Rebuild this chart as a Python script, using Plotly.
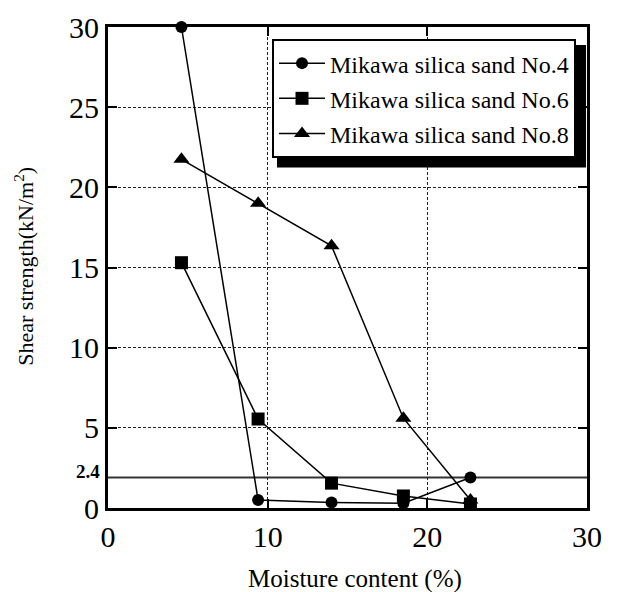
import plotly.graph_objects as go

moisture = [4.6, 9.4, 14.0, 18.5, 22.7]
sand_no4 = [30.0, 0.5, 0.35, 0.3, 1.9]
sand_no6 = [15.3, 5.55, 1.55, 0.75, 0.25]
sand_no8 = [21.75, 19.0, 16.35, 5.6, 0.5]
series_names = ["Mikawa silica sand No.4", "Mikawa silica sand No.6", "Mikawa silica sand No.8"]
x_ticks = [0, 10, 20, 30]
y_ticks = [0, 5, 10, 15, 20, 25, 30]
ref_label = "2.4"
ref_level = 1.9

FONT = "Liberation Serif, Times New Roman, serif"
fig = go.Figure()
symbols = ["circle", "square", "triangle-up"]
sizes = [12, 13, 14]
for i, (name, vals, sym, sz) in enumerate(zip(series_names, [sand_no4, sand_no6, sand_no8], symbols, sizes)):
    fig.add_trace(go.Scatter(
        x=moisture, y=vals, name=name, mode="lines+markers",
        line=dict(color="black", width=1.5),
        marker=dict(symbol=sym, size=sz, color="black"),
        cliponaxis=False, legendgroup="g%d" % i,
    ))

# reference line
fig.add_shape(type="line", xref="paper", x0=0, x1=1, yref="y", y0=ref_level, y1=ref_level,
              line=dict(color="#333333", width=2), layer="below")
fig.add_annotation(text="<b>%s</b>" % ref_label, xref="paper", x=-0.012, xanchor="right",
                   yref="y", y=ref_level, yshift=6, showarrow=False,
                   font=dict(family=FONT, size=19, color="black"))

# legend shadow
fig.add_shape(type="rect", xref="paper", yref="paper",
              x0=0.3528, x1=0.998, y0=0.708, y1=0.9626,
              fillcolor="black", line=dict(width=0), layer="above")

fig.update_layout(
    width=610, height=584,
    margin=dict(l=100, r=31, t=19, b=84, autoexpand=False),
    paper_bgcolor="white", plot_bgcolor="white",
    font=dict(family=FONT, color="black"),
    showlegend=True,
    legend=dict(x=0.3424, y=0.975, xanchor="left", yanchor="top",
                bgcolor="white", bordercolor="black", borderwidth=2,
                font=dict(family=FONT, size=24, color="black"),
                tracegroupgap=1, itemwidth=46),
    xaxis=dict(range=[0, 30], tickvals=x_ticks, ticktext=[str(v) for v in x_ticks],
               showgrid=True, gridcolor="#222222", griddash="3px,2px", gridwidth=1,
               showline=True, linecolor="black", linewidth=3, mirror="ticks",
               ticks="inside", ticklen=9, tickwidth=1.5, tickcolor="black",
               zeroline=False, tickfont=dict(family=FONT, size=30, color="black")),
    yaxis=dict(range=[0, 30], tickvals=y_ticks, ticktext=[str(v) for v in y_ticks],
               showgrid=True, gridcolor="#222222", griddash="3px,2px", gridwidth=1,
               showline=True, linecolor="black", linewidth=3, mirror="ticks",
               ticks="inside", ticklen=9, tickwidth=1.5, tickcolor="black",
               zeroline=False, tickfont=dict(family=FONT, size=30, color="black")),
)
fig.add_annotation(text="Moisture content (%)", xref="paper", yref="paper", x=0.515, y=-0.148,
                   xanchor="center", yanchor="middle", showarrow=False,
                   font=dict(family=FONT, size=25, color="black"))
fig.add_annotation(text="Shear strength(kN/m<sup>2</sup>)", xref="paper", yref="paper",
                   x=-0.176, y=0.503, textangle=-90, xanchor="center", yanchor="middle",
                   showarrow=False, font=dict(family=FONT, size=22, color="black"))
fig.write_html("out.html")
